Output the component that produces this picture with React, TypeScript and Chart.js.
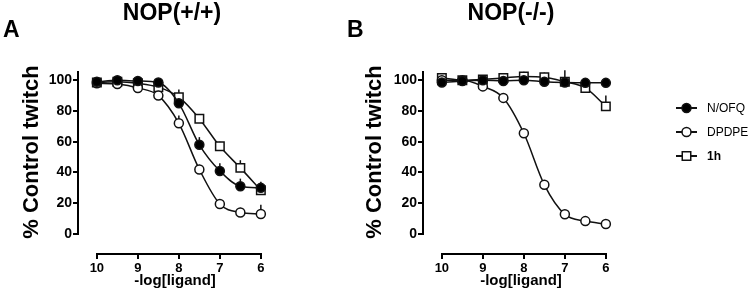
import React, { useEffect, useRef } from "react";
import { Chart, registerables } from "chart.js";

Chart.register(...registerables);

// -log[ligand] concentrations tested
const doses = [10, 9.5, 9, 8.5, 8, 7.5, 7, 6.5, 6];
const xTickValues = [10, 9, 8, 7, 6];
const yTickValues = [0, 20, 40, 60, 80, 100];
const seriesNames = ["N/OFQ", "DPDPE", "1h"];

// NOP(+/+) tissue: % of control twitch
const wtNofq = [99, 100, 99.5, 98.5, 85, 58, 41, 31, 30];
const wtDpdpe = [98, 97.5, 95, 90, 72, 42, 19.5, 14, 13];
const wt1h = [98.5, 99, 98, 95.5, 89, 75, 57, 43, 28.5];
const wtNofqErr = [0, 0, 0, 0, 3, 5, 5, 5, 4];
const wtDpdpeErr = [0, 0, 0, 0, 5, 3, 3, 3, 6];
const wt1hErr = [0, 0, 0, 0, 5, 3, 3, 5, 3];

// NOP(-/-) tissue: % of control twitch
const koNofq = [98.5, 99.5, 100, 99.5, 100, 99, 98.5, 98.3, 98.3];
const koDpdpe = [100, 100, 96, 88.5, 65.5, 32, 12.8, 8.4, 6.5];
const ko1h = [101.5, 100, 100.5, 101.5, 102.5, 102, 99, 95, 83];
const koNofqErr = [0, 0, 0, 0, 0, 0, 8, 0, 0];
const koDpdpeErr = [0, 0, 0, 0, 0, 0, 0, 0, 0];
const ko1hErr = [0, 0, 0, 3, 3, 3, 0, 0, 7];

const FONT = "'Liberation Sans', Arial, Helvetica, sans-serif";
const INK = "#111";

type PanelSpec = {
  letter: string;
  title: string;
  letterX: number;
  titleX: number;
  yTitleX: number;
  xTitleX: number;
  padRight: number;
  legend: boolean;
  series: { values: number[]; errors: number[] }[];
};

const markerStyles = [
  { pointStyle: "circle", radius: 4.5, fill: "#000" },
  { pointStyle: "circle", radius: 4.5, fill: "#fff" },
  { pointStyle: "rect", radius: 6, fill: "#fff" },
];

function drawMarker(ctx: CanvasRenderingContext2D, idx: number, x: number, y: number) {
  const m = markerStyles[idx];
  ctx.save();
  ctx.fillStyle = m.fill;
  ctx.strokeStyle = INK;
  ctx.lineWidth = 1.5;
  ctx.beginPath();
  if (m.pointStyle === "rect") {
    const h = m.radius * Math.SQRT1_2;
    ctx.rect(x - h, y - h, 2 * h, 2 * h);
  } else {
    ctx.arc(x, y, m.radius, 0, Math.PI * 2);
  }
  ctx.fill();
  ctx.stroke();
  ctx.restore();
}

function makePlugin(spec: PanelSpec) {
  return {
    id: "panelDecor",
    beforeDatasetsDraw(chart: any) {
      const { ctx, scales } = chart;
      const xs = scales.x;
      const ys = scales.y;
      ctx.save();
      ctx.strokeStyle = "#000";
      ctx.lineWidth = 2;
      // offset axes: y runs from the top of the plot down to 0, x spans 10..6
      const left = chart.chartArea.left;
      ctx.beginPath();
      ctx.moveTo(left, chart.chartArea.top);
      ctx.lineTo(left, Math.round(ys.getPixelForValue(0)) + 1);
      ctx.stroke();
      const bottom = chart.chartArea.bottom;
      ctx.beginPath();
      ctx.moveTo(Math.round(xs.getPixelForValue(10)) - 1, bottom);
      ctx.lineTo(Math.round(xs.getPixelForValue(6)) + 1, bottom);
      ctx.stroke();

      // upward SEM bars
      ctx.strokeStyle = INK;
      ctx.lineWidth = 1.5;
      chart.data.datasets.forEach((ds: any, i: number) => {
        const meta = chart.getDatasetMeta(i);
        (ds.errorBars as number[]).forEach((err, j) => {
          if (!err) return;
          const el = meta.data[j];
          const top = ys.getPixelForValue((ds.data[j] as any).y + err);
          ctx.beginPath();
          ctx.moveTo(el.x, el.y);
          ctx.lineTo(el.x, top);
          ctx.stroke();
        });
      });
      ctx.restore();
    },
    afterDraw(chart: any) {
      const { ctx } = chart;
      ctx.save();
      ctx.fillStyle = "#000";
      ctx.textBaseline = "middle";

      ctx.font = `bold 23px ${FONT}`;
      ctx.textAlign = "left";
      ctx.fillText(spec.letter, spec.letterX, 31);
      ctx.textAlign = "center";
      ctx.fillText(spec.title, spec.titleX, 14);

      ctx.font = `bold 15px ${FONT}`;
      ctx.fillText("-log[ligand]", spec.xTitleX, 281);

      ctx.save();
      ctx.translate(spec.yTitleX, 152);
      ctx.rotate(-Math.PI / 2);
      ctx.font = `bold 22px ${FONT}`;
      ctx.fillText("% Control twitch", 0, 0);
      ctx.restore();

      if (spec.legend) {
        const rows = [108, 132, 156];
        chart.data.datasets.forEach((ds: any, i: number) => {
          const y = rows[i];
          ctx.strokeStyle = INK;
          ctx.lineWidth = 2;
          ctx.beginPath();
          ctx.moveTo(331, y);
          ctx.lineTo(352, y);
          ctx.stroke();
          drawMarker(ctx, i, 341.5, y);
          ctx.fillStyle = "#000";
          ctx.textAlign = "left";
          ctx.font = `${i === 2 ? "bold " : ""}12px ${FONT}`;
          ctx.fillText(ds.label, 362, y + 0.5);
        });
      }
      ctx.restore();
    },
  };
}

function buildConfig(spec: PanelSpec): any {
  const datasets = spec.series.map((s, i) => {
    const m = markerStyles[i];
    return {
      label: seriesNames[i],
      data: doses.map((d, j) => ({ x: d, y: s.values[j] })),
      errorBars: s.errors,
      borderColor: INK,
      borderWidth: 1.5,
      pointStyle: m.pointStyle,
      pointRadius: m.radius,
      pointBackgroundColor: m.fill,
      pointBorderColor: INK,
      pointBorderWidth: 1.5,
      cubicInterpolationMode: "monotone",
      fill: false,
      clip: false,
    };
  });
  return {
    type: "line",
    data: { datasets },
    options: {
      animation: false,
      responsive: false,
      events: [],
      layout: { padding: { left: 0, right: spec.padRight, top: 71, bottom: 0 } },
      plugins: { legend: { display: false }, tooltip: { enabled: false } },
      scales: {
        x: {
          type: "linear",
          reverse: true,
          min: 5.85,
          max: 10.46,
          afterBuildTicks: (s: any) => {
            s.ticks = xTickValues.map((v) => ({ value: v }));
          },
          afterFit: (s: any) => {
            s.height = 42;
          },
          border: { display: false },
          grid: { drawOnChartArea: false, drawTicks: true, tickLength: 5, lineWidth: 2, color: "#000" },
          ticks: {
            color: "#000",
            font: { family: FONT, size: 13, weight: "bold" },
            padding: 2,
            maxRotation: 0,
            autoSkip: false,
          },
        },
        y: {
          type: "linear",
          min: -13,
          max: 106,
          afterBuildTicks: (s: any) => {
            s.ticks = yTickValues.map((v) => ({ value: v }));
          },
          afterFit: (s: any) => {
            s.width = 78;
          },
          border: { display: false },
          grid: { drawOnChartArea: false, drawTicks: true, tickLength: 5, lineWidth: 2, color: "#000" },
          ticks: {
            color: "#000",
            font: { family: FONT, size: 14, weight: "bold" },
            padding: 1,
            autoSkip: false,
          },
        },
      },
    },
    plugins: [makePlugin(spec)],
  };
}

const panelA: PanelSpec = {
  letter: "A",
  title: "NOP(+/+)",
  letterX: 3,
  titleX: 172,
  yTitleX: 32,
  xTitleX: 175,
  padRight: 78,
  legend: false,
  series: [
    { values: wtNofq, errors: wtNofqErr },
    { values: wtDpdpe, errors: wtDpdpeErr },
    { values: wt1h, errors: wt1hErr },
  ],
};

const panelB: PanelSpec = {
  letter: "B",
  title: "NOP(-/-)",
  letterX: 2,
  titleX: 166,
  yTitleX: 30,
  xTitleX: 176,
  padRight: 138,
  legend: true,
  series: [
    { values: koNofq, errors: koNofqErr },
    { values: koDpdpe, errors: koDpdpeErr },
    { values: ko1h, errors: ko1hErr },
  ],
};

function Panel({ spec, left, width }: { spec: PanelSpec; left: number; width: number }) {
  const ref = useRef<HTMLCanvasElement | null>(null);
  useEffect(() => {
    if (!ref.current) return;
    const chart = new Chart(ref.current, buildConfig(spec));
    return () => chart.destroy();
  }, [spec]);
  return (
    <canvas
      ref={ref}
      width={width}
      height={296}
      style={{ position: "absolute", left, top: 0, width, height: 296 }}
    />
  );
}

export default function App() {
  return (
    <div style={{ position: "fixed", left: 0, top: 0, width: 750, height: 296, background: "#fff" }}>
      <Panel spec={panelA} left={0} width={345} />
      <Panel spec={panelB} left={345} width={405} />
    </div>
  );
}
